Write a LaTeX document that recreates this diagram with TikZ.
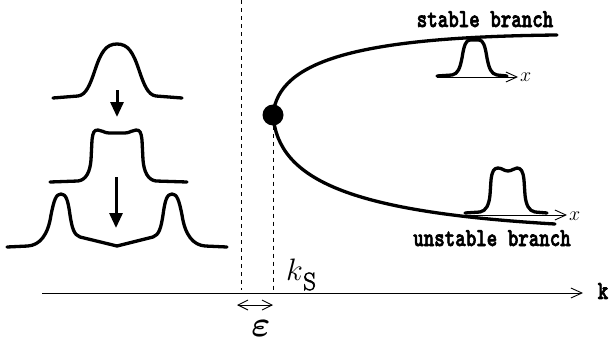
\RequirePackage{fix-cm}
\documentclass[tikz,border=0pt]{standalone}
\usepackage{amsmath}
\usetikzlibrary{arrows.meta}
\newcommand{\heavytxt}[1]{\special{pdf:literal direct 2 Tr 0.55 w}#1\special{pdf:literal direct 0 Tr}}
\begin{document}
\begin{tikzpicture}[x=1pt,y=-1pt,
  prof/.style={line width=3.3pt, line join=round, line cap=round},
  branch/.style={line width=3.3pt, line cap=round},
  thinax/.style={line width=0.9pt, >={Straight Barb[length=11pt,width=10pt]}, ->},
  dblarr/.style={line width=0.9pt, >={Straight Barb[length=10pt,width=10pt]}, <->},
  guide/.style={dash pattern=on 4pt off 4pt, line width=1pt},
  downarr/.style={line width=3pt, >={Triangle[length=15pt,width=13pt]}, ->},
  lbl/.style={inner sep=0pt},
  ttlbl/.style={inner sep=0pt, font=\fontsize{20}{20}\selectfont\ttfamily\bfseries},
]
\useasboundingbox (0,0) rectangle (610,343);

% left profiles
\draw[prof] (53,98) -- (78,96) .. controls (86,95) and (90,85) .. (95,70)
  .. controls (101,52) and (106,44) .. (117,44)
  .. controls (128,44) and (133,52) .. (139,70)
  .. controls (144,85) and (148,95) .. (156,96) -- (182,98);
\draw[prof] (50,182) -- (78,181) .. controls (86,180) and (90,172) .. (91,160) -- (92,140)
  .. controls (93,132) and (94,130) .. (98,130)
  .. controls (102,130) and (104,133) .. (109,133) -- (125,133)
  .. controls (130,133) and (132,130) .. (136,130)
  .. controls (140,130) and (141,132) .. (142,140) -- (143,160)
  .. controls (144,172) and (148,180) .. (156,181) -- (187,182);
\draw[prof] (7,247) -- (28,246) .. controls (40,245) and (48,235) .. (51,215)
  .. controls (54,200) and (56,194) .. (61,194)
  .. controls (66,194) and (68,200) .. (70,215)
  .. controls (72,228) and (74,235) .. (80,237) -- (117,246) -- (153,237)
  .. controls (159,235) and (161,228) .. (163,215)
  .. controls (165,200) and (167,194) .. (172,194)
  .. controls (177,194) and (179,200) .. (182,215)
  .. controls (185,235) and (193,245) .. (205,246) -- (227,247);
\coordinate (a1s) at (117,90);
\coordinate (a1e) at (117,117);
\coordinate (a2s) at (116,177);
\coordinate (a2e) at (116,228);
\draw[downarr] (a1s) -- (a1e);
\draw[downarr] (a2s) -- (a2e);

% axis
\coordinate (axs) at (42,293);
\coordinate (axe) at (583,293);
\draw[thinax] (axs) -- (axe);
\node[ttlbl] (klbl) at (603,291) {\scalebox{1}[1.3]{\heavytxt{k}}};

% dashed guides
\coordinate (g1t) at (241,0);
\coordinate (g1b) at (241,290);
\draw[guide] (g1t) -- (g1b);
\node[circle, fill, minimum size=21pt, inner sep=0pt] (ks) at (273,115) {};
\coordinate (g2b) at (273,290);
\draw[guide] (ks) -- (g2b);

% epsilon
\coordinate (el) at (237,305);
\coordinate (er) at (273,305);
\draw[dblarr] (el) -- (er);
\node[lbl, font=\fontsize{36}{36}\selectfont] (eps) at (261,328) {$\boldsymbol{\varepsilon}$};

% k_S
\node[lbl, anchor=base west, font=\fontsize{31}{31}\selectfont] (kk) at (286,280) {$k$};
\node[lbl, anchor=base west, font=\fontsize{25}{25}\selectfont] (kS) at (303,290) {\heavytxt{S}};

% branches
\coordinate (stend) at (557,35);
\coordinate (unend) at (555,224);
\draw[branch] (ks.center) .. controls (278,60) and (360,37) .. (stend);
\draw[branch] (ks.center) .. controls (278,180) and (350,212) .. (unend);
\node[ttlbl, anchor=base] (stlbl) at (485,27) {\scalebox{1}[1.3]{\heavytxt{stable branch}}};
\node[ttlbl, anchor=base] (unlbl) at (492,246) {\scalebox{1}[1.3]{\heavytxt{unstable branch}}};

% small stable profile
\coordinate (sa) at (437,77);
\coordinate (sb) at (518,77);
\draw[thinax] (sa) -- (sb);
\node[lbl, anchor=west, font=\fontsize{20}{20}\selectfont] (sx) at (520,77) {$x$};
\draw[prof] (437,76) -- (452,75) .. controls (458,74) and (460,68) .. (462,58)
  .. controls (464,45) and (466,40) .. (470,40) -- (479,40)
  .. controls (483,40) and (485,45) .. (487,58)
  .. controls (489,68) and (491,74) .. (497,75) -- (507,76);

% small unstable profile
\coordinate (ua) at (465,215);
\coordinate (ub) at (567,215);
\draw[thinax] (ua) -- (ub);
\node[lbl, anchor=west, font=\fontsize{20}{20}\selectfont] (ux) at (569,216) {$x$};
\draw[prof] (465,213) -- (480,212) .. controls (486,211) and (489,205) .. (490,195) -- (491,180)
  .. controls (492,171) and (494,168) .. (498,168)
  .. controls (502,168) and (504,171) .. (508,171)
  .. controls (512,171) and (514,168) .. (517,168)
  .. controls (521,168) and (523,171) .. (524,180) -- (525,195)
  .. controls (526,205) and (529,211) .. (535,212) -- (547,213);
\end{tikzpicture}
\end{document}
